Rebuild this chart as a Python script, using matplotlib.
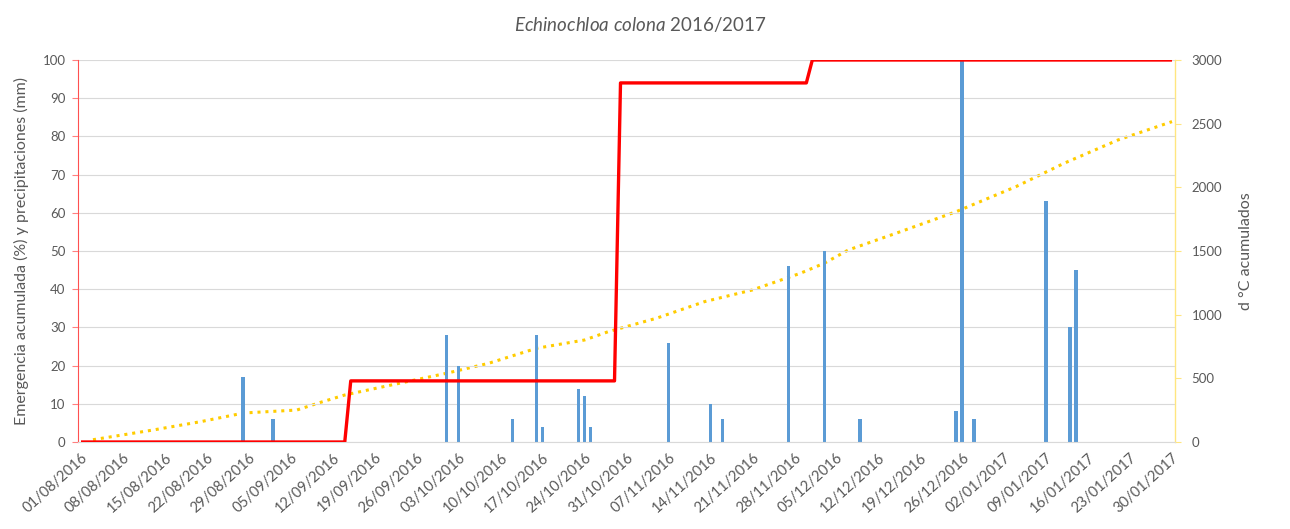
import datetime as dt
import matplotlib
matplotlib.use("Agg")
import matplotlib.pyplot as plt

plt.rcParams['font.family'] = ['Lato', 'DejaVu Sans']
plt.rcParams['mathtext.fontset'] = 'custom'
plt.rcParams['mathtext.rm'] = 'Lato'
plt.rcParams['mathtext.it'] = 'Lato:italic'

# --- data ---
rain_dates = ["2016-08-28", "2016-09-02", "2016-10-01", "2016-10-03", "2016-10-12",
              "2016-10-16", "2016-10-17", "2016-10-23", "2016-10-24", "2016-10-25",
              "2016-11-07", "2016-11-14", "2016-11-16", "2016-11-27", "2016-12-03",
              "2016-12-09", "2016-12-25", "2016-12-26", "2016-12-28", "2017-01-09",
              "2017-01-13", "2017-01-14"]
rain_mm = [17, 6, 28, 20, 6, 28, 4, 14, 12, 4, 26, 10, 6, 46, 50, 6, 8, 100, 6, 63, 30, 45]

emerg_dates = ["2016-08-01", "2016-09-14", "2016-09-15", "2016-10-29", "2016-10-30",
               "2016-11-30", "2016-12-01", "2017-01-30"]
emerg_pct = [0, 0, 16, 16, 94, 94, 100, 100]

gdd_dates = ["2016-08-03", "2016-08-13", "2016-08-21", "2016-08-27", "2016-08-29",
             "2016-09-06", "2016-09-10", "2016-09-14", "2016-09-21", "2016-10-01",
             "2016-10-08", "2016-10-16", "2016-10-24", "2016-10-28", "2016-11-05",
             "2016-11-13", "2016-11-21", "2016-11-29", "2016-12-03", "2016-12-07",
             "2016-12-15", "2016-12-25", "2017-01-04", "2017-01-12", "2017-01-21",
             "2017-01-30"]
gdd_val = [18, 94, 160, 217, 230, 251, 312, 369, 440, 540, 618, 736, 801, 867, 972,
           1102, 1194, 1325, 1404, 1508, 1640, 1809, 2006, 2189, 2372, 2516]

tick_start = "2016-08-01"
tick_end = "2017-01-30"
left_ticks = [0, 10, 20, 30, 40, 50, 60, 70, 80, 90, 100]
right_ticks = [0, 500, 1000, 1500, 2000, 2500, 3000]

title_txt = r"$\it{Echinochloa\ colona}$ 2016/2017"
ylabel_left = "Emergencia acumulada (%) y precipitaciones (mm)"
ylabel_right = "d °C acumulados"


def p(s):
    return dt.datetime.strptime(s, "%Y-%m-%d")


gray = '#595959'
fig = plt.figure(figsize=(12.9, 5.29), dpi=100)
ax = fig.add_axes([78 / 1290, 1 - 442 / 529, (1175 - 78) / 1290, (442 - 60) / 529])
ax2 = ax.twinx()
ax.set_zorder(ax2.get_zorder() + 1)
ax.patch.set_visible(False)

# yellow dotted cumulative degree days
ax2.plot([p(d) for d in gdd_dates], gdd_val, color='#FFCC00', lw=2.2,
         linestyle=(0, (1, 1.6)))

# bars
ax.bar([p(d) for d in rain_dates], rain_mm, width=0.6, color='#5B9BD5', zorder=2)
# red emergence line
ax.plot([p(d) for d in emerg_dates], emerg_pct, color='#FF0000', lw=2.4, zorder=3,
        solid_capstyle='butt')

x0 = p(tick_start) - dt.timedelta(hours=12)
x1 = p(tick_end) + dt.timedelta(hours=12)
ax.set_xlim(x0, x1)
ax.set_ylim(0, 100)
ax2.set_ylim(0, 3000)

ticks = []
t = p(tick_start)
while t <= p(tick_end):
    ticks.append(t)
    t += dt.timedelta(days=7)
ax.set_xticks(ticks)
ax.set_xticklabels([d.strftime("%d/%m/%Y") for d in ticks], rotation=42, ha='right',
                   va='top', rotation_mode='anchor', fontsize=10.5, color=gray)
ax.set_yticks(left_ticks)
ax.set_yticklabels([str(v) for v in left_ticks], fontsize=9.5, color=gray)
ax2.set_yticks(right_ticks)
ax2.set_yticklabels([str(v) for v in right_ticks], fontsize=9.5, color=gray)

ax.grid(axis='y', color='#D9D9D9', lw=0.8, zorder=0)
ax.set_axisbelow(True)

for a in (ax, ax2):
    a.spines['top'].set_visible(False)
ax.spines['right'].set_visible(False)
ax.spines['bottom'].set_color('#D9D9D9')
ax2.spines['bottom'].set_visible(False)
ax2.spines['left'].set_visible(False)
ax.spines['left'].set_color('#FF5050')
ax.spines['left'].set_linewidth(0.8)
ax2.spines['right'].set_color('#FFE680')
ax2.spines['right'].set_linewidth(1.0)
ax.tick_params(axis='y', color='#FF8080', length=4, pad=5)
ax.tick_params(axis='x', length=0, pad=6)
ax2.tick_params(axis='y', color='#FFE680', length=4, pad=8)

ax.set_ylabel(ylabel_left, fontsize=11.5, color=gray, labelpad=10)
ax2.set_ylabel(ylabel_right, fontsize=11.5, color=gray, labelpad=12)

fig.text(640 / 1290, 1 - 24 / 529, title_txt, ha='center', va='center', fontsize=13.5,
         color=gray)

fig.savefig("out.png", dpi=100)
